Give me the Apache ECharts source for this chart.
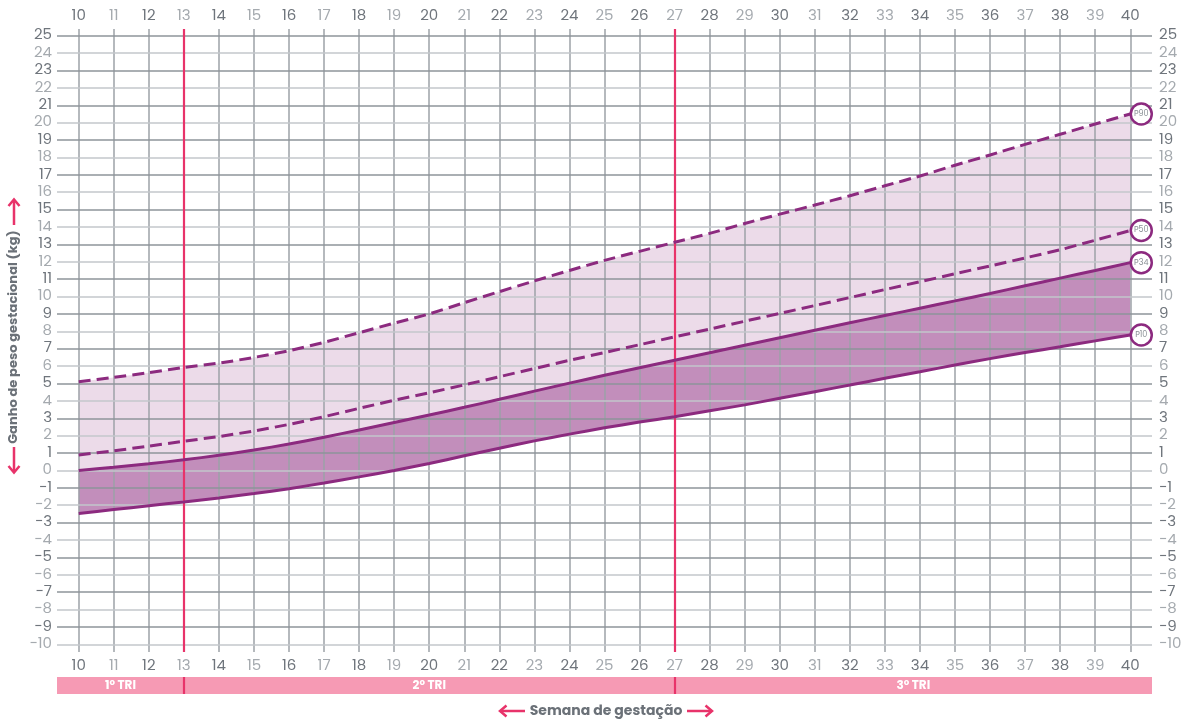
<!DOCTYPE html>
<html><head><meta charset="utf-8">
<script src="https://cdn.jsdelivr.net/npm/echarts@6/dist/echarts.min.js"></script>
<style>html,body{margin:0;padding:0;background:#fff}#c{width:1195px;height:720px}</style>
</head><body><div id="c"></div>
<script>
// ---- data ----
const weeks = [10,11,12,13,14,15,16,17,18,19,20,21,22,23,24,25,26,27,28,29,30,31,32,33,34,35,36,37,38,39,40];
const kgTicks = [-10,-9,-8,-7,-6,-5,-4,-3,-2,-1,0,1,2,3,4,5,6,7,8,9,10,11,12,13,14,15,16,17,18,19,20,21,22,23,24,25];
const P90 = [5.1,5.35,5.62,5.92,6.17,6.5,6.88,7.37,7.92,8.47,9.0,9.65,10.28,10.9,11.5,12.08,12.6,13.12,13.63,14.2,14.74,15.26,15.8,16.37,16.93,17.55,18.14,18.75,19.33,19.92,20.5];
const P50 = [0.89,1.13,1.4,1.68,1.95,2.27,2.65,3.09,3.57,4.04,4.47,4.92,5.39,5.86,6.33,6.78,7.23,7.68,8.13,8.58,9.03,9.48,9.94,10.4,10.85,11.31,11.76,12.22,12.69,13.24,13.8];
const P34 = [0,0.18,0.38,0.61,0.87,1.17,1.52,1.91,2.33,2.76,3.19,3.63,4.09,4.56,5.02,5.47,5.91,6.34,6.77,7.2,7.63,8.06,8.49,8.91,9.33,9.75,10.18,10.62,11.06,11.5,11.95];
const P10 = [-2.47,-2.25,-2.03,-1.81,-1.58,-1.33,-1.05,-0.72,-0.37,0.0,0.4,0.84,1.28,1.7,2.09,2.45,2.78,3.09,3.43,3.77,4.15,4.53,4.91,5.3,5.68,6.06,6.43,6.78,7.11,7.45,7.79];
const trimesterBounds = [13, 27];
const trimesterNames = ['1º TRI', '2º TRI', '3º TRI'];
const percentileNames = ['P10', 'P34', 'P50', 'P90'];

// ---- layout / style ----
const X_MIN = 9.38, X_MAX = 40.62, Y_MIN = -10.44, Y_MAX = 25.385;
const FONT = 'Poppins, "Open Sans", sans-serif';
const PURPLE = '#8c2a7f', RED = '#e8336a', PINK = '#f69ab4';
const LBL_DARK = '#6f757c', LBL_LIGHT = '#a5aaaf';
const GRID_DARK = '#8e949a', GRID_LIGHT = '#c3c7cb', GRID_V = '#9ca2a7';

const pair = arr => weeks.map((w, i) => [w, arr[i]]);

const gridLines = [];
weeks.forEach(w => gridLines.push({xAxis: w, lineStyle: {color: GRID_V, width: 1.5, type: 'solid'}}));
kgTicks.forEach(v => gridLines.push({yAxis: v, lineStyle: {color: Math.abs(v) % 2 === 1 ? GRID_DARK : GRID_LIGHT, width: 1.5, type: 'solid'}}));

const xLabelColor = v => (v % 2 === 0 ? LBL_DARK : LBL_LIGHT);
const yLabelColor = v => (Math.abs(v) % 2 === 1 ? LBL_DARK : LBL_LIGHT);

function band(upper, lower, color) {
  return {
    type: 'custom', z: 2, silent: true, data: [[weeks[0], upper[0]]],
    renderItem: (params, api) => {
      const pts = weeks.map((w, i) => api.coord([w, upper[i]]));
      for (let i = weeks.length - 1; i >= 0; i--) pts.push(api.coord([weeks[i], lower[i]]));
      return {type: 'polygon', shape: {points: pts}, style: {fill: color}};
    }
  };
}

function pLine(name, arr, dashed) {
  return {
    name, type: 'line', data: pair(arr), symbol: 'none', z: 6, smooth: 0.2,
    lineStyle: {color: PURPLE, width: 3, type: dashed ? [12, 6] : 'solid'},
    markPoint: {
      silent: true, animation: false,
      symbol: 'circle', symbolSize: 21, symbolOffset: [11, 0],
      itemStyle: {color: '#fff', borderColor: PURPLE, borderWidth: 2.5},
      label: {show: true, formatter: name, color: '#8a9096', fontSize: 8, fontFamily: FONT},
      data: [{coord: [weeks[weeks.length - 1], arr[arr.length - 1]]}]
    }
  };
}

const triEdges = [X_MIN].concat(trimesterBounds, [X_MAX]);
const triAreas = trimesterNames.map((n, i) => [{name: n, xAxis: triEdges[i]}, {xAxis: triEdges[i + 1]}]);

const option = {
  animation: false,
  grid: [
    {left: 57, right: 43, top: 29, bottom: 68},
    {left: 57, right: 43, top: 677, height: 17}
  ],
  xAxis: [
    {gridIndex: 0, type: 'value', min: X_MIN, max: X_MAX, position: 'bottom',
     axisLine: {show: false}, axisTick: {show: false}, splitLine: {show: false},
     axisLabel: {customValues: weeks, margin: 7, fontSize: 15, fontFamily: FONT, color: xLabelColor}},
    {gridIndex: 0, type: 'value', min: X_MIN, max: X_MAX, position: 'top',
     axisLine: {show: false}, axisTick: {show: false}, splitLine: {show: false},
     axisLabel: {customValues: weeks, margin: 5, fontSize: 15, fontFamily: FONT, color: xLabelColor}},
    {gridIndex: 1, type: 'value', min: X_MIN, max: X_MAX, show: false}
  ],
  yAxis: [
    {gridIndex: 0, type: 'value', min: Y_MIN, max: Y_MAX, position: 'left',
     axisLine: {show: false}, axisTick: {show: false}, splitLine: {show: false},
     axisLabel: {customValues: kgTicks, margin: 5, fontSize: 15, fontFamily: FONT, color: yLabelColor,
                 formatter: v => String(v).replace('-', '\u2212')}},
    {gridIndex: 0, type: 'value', min: Y_MIN, max: Y_MAX, position: 'right',
     axisLine: {show: false}, axisTick: {show: false}, splitLine: {show: false},
     axisLabel: {customValues: kgTicks, margin: 7, fontSize: 15, fontFamily: FONT, color: yLabelColor,
                 formatter: v => String(v).replace('-', '\u2212')}},
    {gridIndex: 1, type: 'value', min: 0, max: 1, show: false}
  ],
  series: [
    {type: 'line', data: [], z: 1, silent: true,
     markLine: {silent: true, animation: false, symbol: 'none', label: {show: false}, data: gridLines}},
    band(P90, P34, 'rgba(140,42,127,0.17)'),
    band(P34, P10, 'rgba(140,42,127,0.53)'),
    {type: 'line', data: [], z: 5, silent: true,
     markLine: {silent: true, animation: false, symbol: 'none', label: {show: false},
       lineStyle: {color: RED, width: 2.2, type: 'solid'},
       data: trimesterBounds.map(b => ({xAxis: b}))}},
    pLine(percentileNames[0], P10, false),
    pLine(percentileNames[1], P34, false),
    pLine(percentileNames[2], P50, true),
    pLine(percentileNames[3], P90, true),
    {type: 'line', xAxisIndex: 2, yAxisIndex: 2, data: [], silent: true,
     markArea: {silent: true, animation: false, itemStyle: {color: PINK},
       label: {show: true, position: 'inside', color: '#fff', fontWeight: 'bold', fontSize: 12, fontFamily: FONT},
       data: triAreas},
     markLine: {silent: true, animation: false, symbol: 'none', label: {show: false},
       lineStyle: {color: RED, width: 2.2, type: 'solid'},
       data: trimesterBounds.map(b => ({xAxis: b}))}}
  ],
  graphic: [
    {type: 'text', x: 14, y: 337, rotation: Math.PI / 2,
     style: {text: 'Ganho de peso gestacional (kg)', fill: '#6b7178', font: 'bold 13px ' + FONT,
             textAlign: 'center', textVerticalAlign: 'middle'}},
    {type: 'polyline', shape: {points: [[14, 225], [14, 200]]}, style: {stroke: RED, lineWidth: 2.5, fill: null}},
    {type: 'polyline', shape: {points: [[8.5, 206], [14, 199.5], [19.5, 206]]}, style: {stroke: RED, lineWidth: 2.5, fill: null}},
    {type: 'polyline', shape: {points: [[14, 447], [14, 472]]}, style: {stroke: RED, lineWidth: 2.5, fill: null}},
    {type: 'polyline', shape: {points: [[8.5, 466], [14, 472.5], [19.5, 466]]}, style: {stroke: RED, lineWidth: 2.5, fill: null}},
    {type: 'text', x: 606, y: 711,
     style: {text: 'Semana de gestação', fill: '#6b7178', font: 'bold 14px ' + FONT,
             textAlign: 'center', textVerticalAlign: 'middle'}},
    {type: 'polyline', shape: {points: [[525, 711], [500, 711]]}, style: {stroke: RED, lineWidth: 2.5, fill: null}},
    {type: 'polyline', shape: {points: [[506.5, 705.5], [500, 711], [506.5, 716.5]]}, style: {stroke: RED, lineWidth: 2.5, fill: null}},
    {type: 'polyline', shape: {points: [[687, 711], [712, 711]]}, style: {stroke: RED, lineWidth: 2.5, fill: null}},
    {type: 'polyline', shape: {points: [[705.5, 705.5], [712, 711], [705.5, 716.5]]}, style: {stroke: RED, lineWidth: 2.5, fill: null}}
  ]
};
const chart = echarts.init(document.getElementById('c'), null, {renderer: 'canvas'});
chart.setOption(option);
</script>
</body></html>
